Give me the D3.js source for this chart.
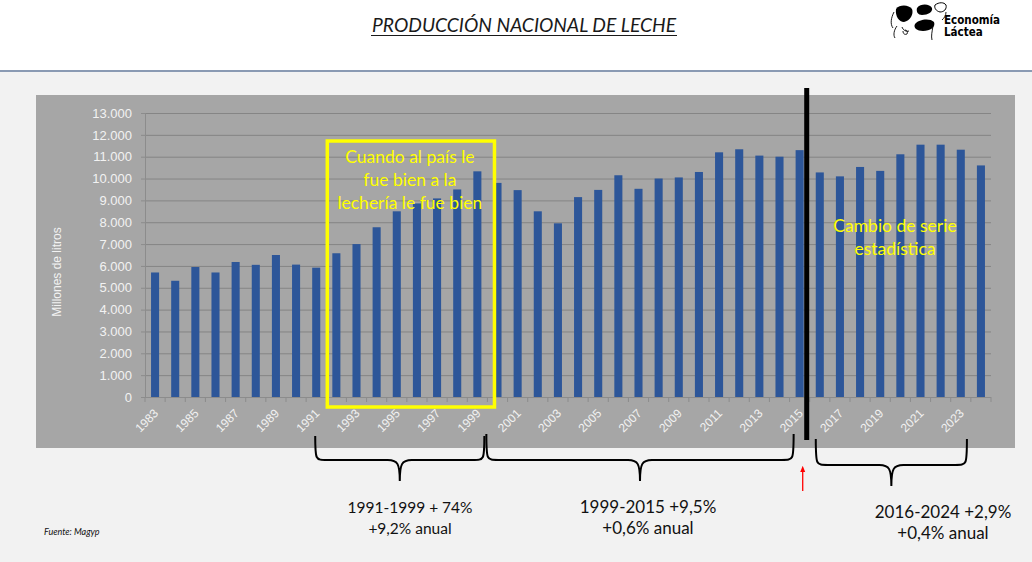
<!DOCTYPE html>
<html>
<head>
<meta charset="utf-8">
<script src="https://cdn.jsdelivr.net/npm/d3@7/dist/d3.min.js"></script>
<style>
  html, body { margin: 0; padding: 0; background: #f2f2f2; }
  svg { display: block; }
</style>
</head>
<body>
<svg id="chart" width="1032" height="562"></svg>
<script>
// ---- DATA ----
const years = d3.range(1983, 2025);
const production = [
  5700, 5320, 5950, 5700, 6180, 6050, 6500, 6060, 5920, 6580,
  7000, 7770, 8500, 8860, 9090, 9500, 10330, 9800, 9470, 8500,
  7950, 9150, 9480, 10150, 9530, 10000, 10050, 10300, 11200, 11340,
  11050, 11000, 11300, 10280, 10100, 10530, 10350, 11110, 11550, 11550,
  11320, 10600
];
const yTicks = d3.range(0, 13001, 1000);
const xTickLabels = years.filter(y => (y - 1983) % 2 === 0);
const titleText = "PRODUCCIÓN NACIONAL DE LECHE";
const yAxisTitle = "Millones de litros";
const boxLines = ["Cuando al país le", "fue bien a la", "lechería le fue bien"];
const changeLines = ["Cambio de serie", "estadística"];
const periods = [
  { from: 1991, to: 1999, lines: ["1991-1999 + 74%", "+9,2% anual"] },
  { from: 1999, to: 2015, lines: ["1999-2015 +9,5%", "+0,6% anual"] },
  { from: 2016, to: 2024, lines: ["2016-2024 +2,9%", "+0,4% anual"] }
];
const source = "Fuente: Magyp";

// ---- SETUP ----
const svg = d3.select("#chart");
const W = 1032, H = 562;
const calibri = "Lato, 'Open Sans', sans-serif";
const arial = "'Liberation Sans', Arial, sans-serif";

// Background: white header, light gray body
svg.append("rect").attr("x", 0).attr("y", 0).attr("width", W).attr("height", 71).attr("fill", "#ffffff");
svg.append("rect").attr("x", 0).attr("y", 71).attr("width", W).attr("height", H - 71).attr("fill", "#f2f2f2");
svg.append("line").attr("x1", 0).attr("x2", W).attr("y1", 71).attr("y2", 71)
  .attr("stroke", "#8a9ab3").attr("stroke-width", 2);

// Title
svg.append("text")
  .attr("x", 524).attr("y", 32)
  .attr("text-anchor", "middle")
  .attr("font-family", calibri)
  .attr("font-style", "italic")
  .attr("font-size", 18.5)
  .attr("fill", "#1a1a1a")
  .attr("textLength", 304)
  .attr("lengthAdjust", "spacingAndGlyphs")
  .text(titleText);
svg.append("line").attr("x1", 524 - 153).attr("x2", 524 + 153).attr("y1", 35.5).attr("y2", 35.5)
  .attr("stroke", "#1a1a1a").attr("stroke-width", 1.2);

// Logo (simplified cow + text)
const logo = svg.append("g");
logo.append("path").attr("d", "M896,9 C900,4 909,5 912,9 C914,14 910,21 904,22 C899,22 895,16 896,9 Z").attr("fill", "#000");
logo.append("path").attr("d", "M917,8 C921,3 930,4 932,8 C933,12 928,15 922,15 C918,15 916,12 917,8 Z").attr("fill", "#000");
logo.append("path").attr("d", "M915,24 C919,19 930,18 934,22 C936,27 930,31 923,31 C917,31 913,28 915,24 Z").attr("fill", "#000");
logo.append("path").attr("d", "M935,5 C939,2 944,2 946,5 C947,9 944,12 940,12 C936,11 934,8 935,5 Z").attr("fill", "none").attr("stroke", "#000").attr("stroke-width", 1);
logo.append("path").attr("d", "M894,12 C891,18 890,24 893,28 M897,26 C894,30 893,35 895,38 M902,27 C903,30 906,32 909,31 M933,26 C932,32 931,36 932,40 M946,12 C946,16 944,18 942,20")
  .attr("fill", "none").attr("stroke", "#000").attr("stroke-width", 0.9);
logo.append("path").attr("d", "M903,31 C903,34 905,35 907,34 C908,32 907,30 905,30").attr("fill", "none").attr("stroke", "#000").attr("stroke-width", 0.9);
logo.append("text").attr("x", 944).attr("y", 24)
  .attr("font-family", "'DejaVu Sans Condensed', 'DejaVu Sans', sans-serif")
  .attr("font-weight", "bold").attr("font-size", 11.5).attr("fill", "#000").text("Economía");
logo.append("text").attr("x", 944).attr("y", 36)
  .attr("font-family", "'DejaVu Sans Condensed', 'DejaVu Sans', sans-serif")
  .attr("font-weight", "bold").attr("font-size", 11.5).attr("fill", "#000").text("Láctea");

// Chart panel
svg.append("rect").attr("x", 36).attr("y", 95).attr("width", 979).attr("height", 353).attr("fill", "#a6a6a6");

const x = d3.scaleBand().domain(years).range([145, 991]).paddingInner(0.6).paddingOuter(0.3);
const y = d3.scaleLinear().domain([0, 13000]).range([397, 113]);
const step = x.step();
const boundary = yr => x(yr) - step * x.paddingInner() / 2;
const cx = yr => x(yr) + x.bandwidth() / 2;

const locale = d3.formatLocale({ decimal: ",", thousands: ".", grouping: [3], currency: ["", ""] });
const fmt = locale.format(",");

// Gridlines
svg.append("g").selectAll("line").data(yTicks.filter(d => d > 0)).join("line")
  .attr("x1", 145).attr("x2", 991)
  .attr("y1", d => y(d) + 0.5).attr("y2", d => y(d) + 0.5)
  .attr("stroke", "#858585").attr("stroke-width", 1);

// Y axis
const yAxis = svg.append("g").attr("transform", "translate(145,0)")
  .call(d3.axisLeft(y).tickValues(yTicks).tickFormat(fmt).tickSize(4).tickPadding(9));
yAxis.select(".domain").attr("stroke", "#8c8c8c");
yAxis.selectAll(".tick line").attr("stroke", "#8c8c8c");
yAxis.selectAll(".tick text").attr("font-family", arial).attr("font-size", 13).attr("fill", "#f2f2f2");

// Bars
svg.append("g").selectAll("rect").data(years).join("rect")
  .attr("x", d => x(d))
  .attr("width", x.bandwidth())
  .attr("y", (d, i) => y(production[i]))
  .attr("height", (d, i) => y(0) - y(production[i]))
  .attr("fill", "#2d5699");

// X axis line + boundary ticks
svg.append("line").attr("x1", 145).attr("x2", 991).attr("y1", y(0) + 0.5).attr("y2", y(0) + 0.5)
  .attr("stroke", "#8c8c8c");
svg.append("g").selectAll("line").data(years.concat([2025])).join("line")
  .attr("x1", d => d === 2025 ? 991 : boundary(d))
  .attr("x2", d => d === 2025 ? 991 : boundary(d))
  .attr("y1", y(0)).attr("y2", y(0) + 5)
  .attr("stroke", "#8c8c8c");

// X labels rotated
svg.append("g").selectAll("text").data(xTickLabels).join("text")
  .attr("transform", d => `translate(${cx(d) + 4},${y(0) + 17}) rotate(-45)`)
  .attr("text-anchor", "end")
  .attr("font-family", arial).attr("font-size", 12).attr("fill", "#f2f2f2")
  .text(d => d);

// Y axis title
svg.append("text")
  .attr("transform", `translate(61,${(y(0) + y(13000)) / 2 + 17}) rotate(-90)`)
  .attr("text-anchor", "middle")
  .attr("font-family", arial).attr("font-size", 12).attr("fill", "#f2f2f2")
  .text(yAxisTitle);

// Yellow box annotation
const bx1 = boundary(1992) + 1, bx2 = x(2000) + 1;
const by1 = 141, by2 = y(0) + 10;
svg.append("rect").attr("x", bx1).attr("y", by1).attr("width", bx2 - bx1).attr("height", by2 - by1)
  .attr("fill", "none").attr("stroke", "#ffff00").attr("stroke-width", 3.5);
svg.append("g").selectAll("text").data(boxLines).join("text")
  .attr("x", (bx1 + bx2) / 2 - 1)
  .attr("y", (d, i) => 163 + i * 23)
  .attr("text-anchor", "middle")
  .attr("font-family", calibri).attr("font-size", 17.5).attr("fill", "#ffff00")
  .text(d => d);

// Series change line
const vx = boundary(2016) - 3;
svg.append("line").attr("x1", vx).attr("x2", vx).attr("y1", 88).attr("y2", 440)
  .attr("stroke", "#000").attr("stroke-width", 5);
svg.append("g").selectAll("text").data(changeLines).join("text")
  .attr("x", 895)
  .attr("y", (d, i) => 232 + i * 23)
  .attr("text-anchor", "middle")
  .attr("font-family", calibri).attr("font-size", 17.5).attr("fill", "#ffff00")
  .text(d => d);

// Braces
function bracePath(x1, x2, y0, y1, xm, y2) {
  const r = 12;
  return `M${x1},${y0} C${x1},${y1} ${x1},${y1} ${x1 + r},${y1}` +
    ` L${xm - r},${y1} C${xm - 2},${y1} ${xm},${y1 + 4} ${xm},${y2}` +
    ` C${xm},${y1 + 4} ${xm + 2},${y1} ${xm + r},${y1}` +
    ` L${x2 - r},${y1} C${x2},${y1} ${x2},${y1} ${x2},${y0}`;
}
const braceGeom = [
  { x1: cx(1991) - 1, x2: cx(1999) + 7, y0: 436, y1: 460, y2: 481 },
  { x1: cx(1999) + 9, x2: cx(2015) - 6, y0: 434, y1: 460, y2: 481 },
  { x1: cx(2016) - 4, x2: cx(2024) - 14, y0: 439, y1: 465, y2: 486 }
];
const textGeom = [
  { cx: 410, y: 513, size: 15.5 },
  { cx: 648, y: 513, size: 17 },
  { cx: 943, y: 518, size: 17 }
];
periods.forEach((p, i) => {
  const g = braceGeom[i];
  const xm = (g.x1 + g.x2) / 2;
  svg.append("path").attr("d", bracePath(g.x1, g.x2, g.y0, g.y1, xm, g.y2))
    .attr("fill", "none").attr("stroke", "#000").attr("stroke-width", 2);
  svg.append("g").selectAll("text").data(p.lines).join("text")
    .attr("x", textGeom[i].cx)
    .attr("y", (d, j) => textGeom[i].y + j * 21)
    .attr("text-anchor", "middle")
    .attr("font-family", calibri).attr("font-size", textGeom[i].size).attr("fill", "#111")
    .text(d => d);
});

// Red arrow
const ax = boundary(2016) - 7;
svg.append("defs").append("marker").attr("id", "arr").attr("viewBox", "0 0 10 10")
  .attr("refX", 5).attr("refY", 5).attr("markerWidth", 5).attr("markerHeight", 5).attr("orient", "auto")
  .append("path").attr("d", "M0,1 L10,5 L0,9 Z").attr("fill", "#ff0000");
svg.append("line").attr("x1", ax).attr("x2", ax).attr("y1", 491).attr("y2", 469)
  .attr("stroke", "#ff0000").attr("stroke-width", 1.3).attr("marker-end", "url(#arr)");

// Source
svg.append("text").attr("x", 44).attr("y", 535)
  .attr("font-family", calibri).attr("font-style", "italic").attr("font-size", 9).attr("fill", "#111")
  .text(source);
</script>
</body>
</html>
